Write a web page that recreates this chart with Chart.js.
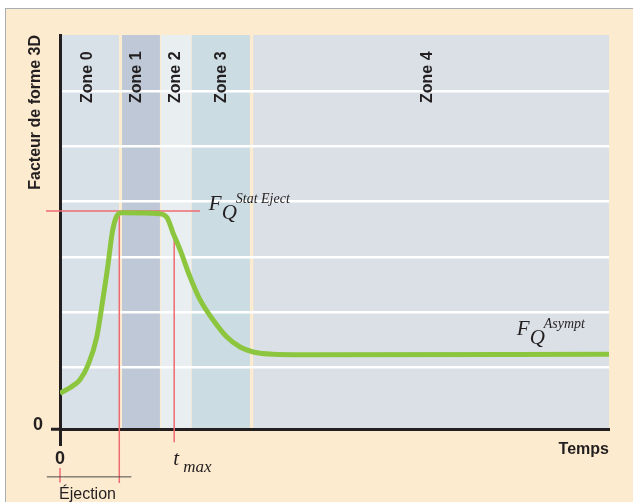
<!DOCTYPE html>
<html lang="fr">
<head>
<meta charset="utf-8">
<title>Facteur de forme 3D</title>
<script src="https://cdn.jsdelivr.net/npm/chart.js"></script>
<style>
  html, body { margin: 0; padding: 0; background: #fff; }
  #wrap { position: relative; width: 633px; height: 502px; overflow: hidden; }
  #frame { position: absolute; left: 5px; top: 8px; right: -6px; bottom: -6px;
           background: #fdebd0; border: 1.5px solid #a9aeb3; }
  canvas { position: absolute; left: 0; top: 0; }
</style>
</head>
<body>
<div id="wrap">
  <div id="frame"></div>
  <canvas id="chart" width="633" height="502"></canvas>
</div>

<script>
// courbe du facteur de forme (temps en unites arbitraires 0..100)
const temps   = [0, 1.8, 3.6, 5.1, 6.7, 7.8, 8.7, 9.5, 10.2, 11.3, 18.2, 19.5, 20.6, 21.9, 23.7, 25.5, 27.9, 30.4, 32.8, 35.2, 38.8, 47.4, 100];
const facteur = [0.65, 0.75, 0.89, 1.16, 1.67, 2.35, 2.95, 3.56, 3.84, 3.93, 3.91, 3.84, 3.56, 3.25, 2.76, 2.35, 1.98, 1.67, 1.49, 1.40, 1.36, 1.35, 1.36];

// zones
const zones      = ['Zone 0', 'Zone 1', 'Zone 2', 'Zone 3', 'Zone 4'];
const zoneStart  = [0, 11.3, 18.4, 24.0, 35.2];
const zoneEnd    = [10.75, 18.2, 23.9, 34.6, 100];
const zoneLabelT = [5.1, 14.0, 21.1, 29.5, 67.0];

// axe vertical : lignes de grille
const yGrid = [0, 1.13, 2.13, 3.13, 4.13, 5.13, 6.13];
const yMax = 7.16;

// reperes
const statEject = 3.96;
const tEjection = 10.8;
const tMax = 20.8;
const tMaxOnCurve = 3.56;

const zoneColors = ['#d8e1e8', '#bec8d7', '#e9eef1', '#cbdce3', '#dbe0e7'];
const ink = '#231f20';
const red = '#ee6b70';

Chart.defaults.font.family = '"Liberation Sans", Arial, sans-serif';
Chart.defaults.color = ink;

const pts = (xs, ys) => xs.map((x, i) => ({x: x, y: ys[i]}));

// draw the F_Q symbol with subscript Q and a superscript
function fq(ctx, x, y, sup) {
  ctx.font = 'italic 21px "Liberation Serif", serif';
  ctx.fillText('F', x, y);
  ctx.fillText('Q', x + 13, y + 9);
  ctx.font = 'italic 14px "Liberation Serif", serif';
  ctx.fillText(sup, x + 27, y - 7);
}

const zonesPlugin = {
  id: 'zones',
  beforeDraw(chart) {
    const {ctx, chartArea: a, scales: {x}} = chart;
    ctx.save();
    zones.forEach((z, i) => {
      const x0 = x.getPixelForValue(zoneStart[i]);
      const x1 = x.getPixelForValue(zoneEnd[i]);
      ctx.fillStyle = zoneColors[i];
      ctx.fillRect(x0, a.top, x1 - x0, a.bottom - a.top);
    });
    ctx.restore();
  },
  afterDatasetsDraw(chart) {
    const {ctx, chartArea: a, scales: {x, y}} = chart;
    ctx.save();
    ctx.fillStyle = ink;

    // zone labels, vertical
    ctx.font = 'bold 16px "Liberation Sans", Arial, sans-serif';
    ctx.textAlign = 'left';
    ctx.textBaseline = 'middle';
    zones.forEach((z, i) => {
      ctx.save();
      ctx.translate(x.getPixelForValue(zoneLabelT[i]), a.top + 68);
      ctx.rotate(-Math.PI / 2);
      ctx.fillText(z, 0, 0);
      ctx.restore();
    });

    ctx.textBaseline = 'alphabetic';
    fq(ctx, x.getPixelForValue(27.1), y.getPixelForValue(statEject) - 1, 'Stat Eject');
    fq(ctx, x.getPixelForValue(83.2), y.getPixelForValue(1.71), 'Asympt');

    // t_max
    const tx = x.getPixelForValue(tMax) - 1;
    ctx.font = 'italic 21px "Liberation Serif", serif';
    ctx.fillText('t', tx, y.bottom + 36);
    ctx.font = 'italic 17px "Liberation Serif", serif';
    ctx.fillText('max', tx + 10, y.bottom + 43);

    // Ejection
    ctx.font = '16px "Liberation Sans", Arial, sans-serif';
    ctx.fillText('Éjection', x.getPixelForValue(0) - 1, 499);
    ctx.restore();
  }
};

const redLine = (data) => ({
  data: data, borderColor: red, borderWidth: 1.5, pointRadius: 0, clip: false, order: 2
});

new Chart(document.getElementById('chart'), {
  type: 'line',
  data: {
    datasets: [
      {
        data: pts(temps, facteur),
        borderColor: '#8cc63f',
        borderWidth: 5,
        pointRadius: 0,
        cubicInterpolationMode: 'monotone',
        order: 0
      },
      redLine([{x: -2.55, y: statEject}, {x: 25.5, y: statEject}]),
      redLine([{x: tEjection, y: statEject}, {x: tEjection, y: -0.98}]),
      redLine([{x: tMax, y: tMaxOnCurve}, {x: tMax, y: -0.24}]),
      redLine([{x: 0, y: -0.71}, {x: 0, y: -0.97}]),
      {
        // cote "Ejection"
        data: [{x: -2.4, y: -0.87}, {x: 0.6, y: -0.87}, {x: 10.2, y: -0.87}, {x: 13, y: -0.87}],
        borderColor: '#4a4a4a',
        borderWidth: 1,
        pointStyle: 'triangle',
        pointRadius: [0, 2.5, 2.5, 0],
        pointRotation: [0, -90, 90, 0],
        pointBackgroundColor: '#333',
        pointBorderWidth: 0,
        clip: false,
        order: 1
      }
    ]
  },
  options: {
    responsive: false,
    animation: false,
    layout: { padding: { top: 35, right: 24, left: 0, bottom: 0 } },
    plugins: { legend: { display: false }, tooltip: { enabled: false } },
    scales: {
      x: {
        type: 'linear',
        min: 0,
        max: 100,
        afterFit: (s) => { s.height = 73; },
        afterBuildTicks: (s) => { s.ticks = [{value: 0}]; },
        ticks: {
          callback: () => '0',
          font: { size: 18, weight: 'bold' },
          padding: 2,
          autoSkip: false
        },
        grid: { drawOnChartArea: false, tickLength: 17, tickColor: ink, tickWidth: 3 },
        border: { color: ink, width: 3 },
        title: {
          display: true,
          text: 'Temps',
          align: 'end',
          font: { size: 16, weight: 'bold' },
          padding: { top: 0, bottom: 43 }
        }
      },
      y: {
        min: 0,
        max: yMax,
        afterFit: (s) => { s.width = 60; },
        afterBuildTicks: (s) => { s.ticks = yGrid.map(v => ({value: v})); },
        ticks: {
          callback: (v) => v === 0 ? '0' : '',
          font: { size: 18, weight: 'bold' },
          padding: 8,
          labelOffset: -4,
          autoSkip: false
        },
        grid: {
          color: (c) => c.tick && c.tick.value === 0 ? 'rgba(0,0,0,0)' : '#ffffff',
          lineWidth: 2.5,
          tickLength: 9,
          tickWidth: 3,
          tickColor: (c) => c.tick && c.tick.value === 0 ? ink : 'rgba(0,0,0,0)'
        },
        border: { color: ink, width: 3 },
        title: {
          display: true,
          text: 'Facteur de forme 3D',
          align: 'end',
          font: { size: 16, weight: 'bold' },
          padding: { top: 26, bottom: 0 }
        }
      }
    }
  },
  plugins: [zonesPlugin]
});
</script>
</body>
</html>
